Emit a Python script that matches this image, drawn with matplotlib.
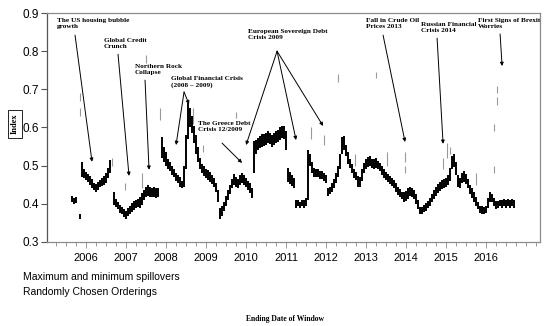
import numpy as np
import matplotlib
matplotlib.use('Agg')
import matplotlib.pyplot as plt

# sampling of the rolling window end dates (decimal years, ~18 days apart)
start_year = 2005.65
step = 0.05

nan = np.nan
# min / max spillover index per window (nan = gap in the series)
spill_lo = [0.405, 0.400, 0.402, nan, 0.360, 0.470, 0.468, 0.463, 0.458, 0.450,
            0.442, 0.435, 0.430, 0.435, 0.443, 0.447, 0.450, 0.455, 0.468, 0.480,
            nan, 0.398, 0.392, 0.385, 0.377, 0.372, 0.365, 0.360, 0.367, 0.372,
            0.378, 0.383, 0.388, 0.392, 0.390, 0.398, 0.410, 0.418, 0.420, 0.417,
            0.418, 0.418, 0.416, 0.418, nan, 0.520, 0.510, 0.500, 0.490, 0.485,
            0.475, 0.470, 0.460, 0.455, 0.445, 0.440, 0.445, 0.490, 0.570, 0.600,
            0.585, 0.560, 0.530, 0.510, 0.490, 0.480, 0.472, 0.468, 0.462, 0.458,
            0.452, 0.445, 0.430, 0.405, 0.360, 0.368, 0.380, 0.395, 0.410, 0.425,
            0.440, 0.450, 0.445, 0.440, 0.450, 0.455, 0.450, 0.445, 0.435, 0.428,
            0.415, 0.480, 0.530, 0.540, 0.545, 0.550, 0.552, 0.553, 0.558, 0.556,
            0.550, 0.553, 0.558, 0.563, 0.568, 0.572, 0.570, 0.540, 0.458, 0.452,
            0.447, 0.440, 0.390, 0.395, 0.390, 0.395, 0.390, 0.395, 0.410, 0.500,
            0.480, 0.470, 0.470, 0.470, 0.465, 0.465, 0.460, 0.455, 0.420, 0.425,
            0.430, 0.440, 0.455, 0.470, 0.490, 0.530, 0.540, 0.525, 0.505, 0.493,
            0.480, 0.468, 0.462, 0.445, 0.443, 0.460, 0.480, 0.492, 0.497, 0.500,
            0.493, 0.492, 0.495, 0.490, 0.485, 0.475, 0.468, 0.462, 0.458, 0.452,
            0.447, 0.440, 0.430, 0.422, 0.418, 0.412, 0.405, 0.408, 0.413, 0.420,
            0.418, 0.412, 0.400, 0.385, 0.372, 0.372, 0.378, 0.382, 0.388, 0.395,
            0.405, 0.412, 0.420, 0.428, 0.433, 0.438, 0.440, 0.443, 0.448, 0.460,
            0.490, 0.497, 0.475, 0.445, 0.442, 0.455, 0.458, 0.452, 0.440, 0.425,
            0.415, 0.405, 0.395, 0.385, 0.375, 0.372, 0.372, 0.375, 0.390, 0.405,
            0.405, 0.395, 0.385, 0.388, 0.393, 0.390, 0.393, 0.390, 0.393, 0.390,
            0.393, 0.390]
spill_hi = [0.420, 0.415, 0.418, nan, 0.372, 0.510, 0.492, 0.483, 0.478, 0.472,
            0.465, 0.455, 0.452, 0.458, 0.463, 0.468, 0.472, 0.480, 0.495, 0.515,
            nan, 0.430, 0.413, 0.405, 0.398, 0.392, 0.385, 0.380, 0.388, 0.395,
            0.402, 0.408, 0.410, 0.412, 0.418, 0.428, 0.437, 0.443, 0.448, 0.445,
            0.442, 0.443, 0.440, 0.440, nan, 0.575, 0.550, 0.535, 0.518, 0.510,
            0.500, 0.490, 0.480, 0.475, 0.470, 0.460, 0.500, 0.580, 0.665, 0.650,
            0.630, 0.605, 0.580, 0.550, 0.520, 0.505, 0.498, 0.492, 0.488, 0.482,
            0.475, 0.468, 0.455, 0.435, 0.390, 0.395, 0.405, 0.420, 0.437, 0.450,
            0.465, 0.477, 0.470, 0.465, 0.475, 0.480, 0.475, 0.467, 0.460, 0.455,
            0.440, 0.565, 0.568, 0.572, 0.578, 0.583, 0.582, 0.585, 0.590, 0.586,
            0.580, 0.585, 0.590, 0.594, 0.600, 0.605, 0.605, 0.590, 0.495, 0.482,
            0.475, 0.468, 0.410, 0.410, 0.405, 0.410, 0.410, 0.415, 0.540, 0.530,
            0.510, 0.495, 0.490, 0.490, 0.485, 0.485, 0.480, 0.475, 0.440, 0.445,
            0.455, 0.465, 0.480, 0.500, 0.530, 0.575, 0.578, 0.555, 0.535, 0.518,
            0.505, 0.492, 0.483, 0.472, 0.470, 0.490, 0.508, 0.517, 0.522, 0.525,
            0.518, 0.517, 0.520, 0.513, 0.508, 0.500, 0.492, 0.484, 0.478, 0.472,
            0.467, 0.462, 0.455, 0.445, 0.438, 0.432, 0.430, 0.433, 0.440, 0.445,
            0.442, 0.435, 0.425, 0.410, 0.392, 0.392, 0.398, 0.402, 0.408, 0.415,
            0.425, 0.435, 0.445, 0.452, 0.458, 0.463, 0.465, 0.468, 0.475, 0.495,
            0.525, 0.530, 0.510, 0.475, 0.468, 0.480, 0.485, 0.478, 0.465, 0.450,
            0.440, 0.430, 0.418, 0.405, 0.395, 0.395, 0.392, 0.395, 0.415, 0.430,
            0.425, 0.415, 0.407, 0.408, 0.410, 0.410, 0.413, 0.410, 0.413, 0.410,
            0.413, 0.410]

# isolated grey readings from other orderings: (date, low, high)
outlier_t = [2005.85, 2005.85, 2006.65, 2006.98, 2007.40, 2007.50, 2007.85, 2008.67,
             2008.92, 2009.75, 2011.62, 2011.95, 2012.30, 2012.72, 2013.25, 2013.52,
             2013.97, 2013.97, 2014.92, 2015.02, 2015.10, 2015.75, 2016.20, 2016.20,
             2016.27, 2016.27]
outlier_lo = [0.670, 0.630, 0.500, 0.435, 0.440, 0.770, 0.620, 0.610, 0.535, 0.625,
              0.570, 0.555, 0.720, 0.500, 0.730, 0.500, 0.510, 0.480, 0.490, 0.520,
              0.530, 0.450, 0.590, 0.480, 0.690, 0.660]
outlier_hi = [0.690, 0.650, 0.520, 0.455, 0.480, 0.790, 0.650, 0.650, 0.555, 0.640,
              0.600, 0.580, 0.740, 0.530, 0.745, 0.535, 0.535, 0.500, 0.520, 0.560,
              0.550, 0.480, 0.610, 0.500, 0.710, 0.680]

years = list(range(2006, 2017))

# event labels: text, text anchor, arrow start, arrow tips
events = [
    ("The US housing bubble\ngrowth", (2005.275, 0.887), (2005.725, 0.842), [(2006.15, 0.510)]),
    ("Global Credit\nCrunch", (2006.45, 0.835), (2006.80, 0.792), [(2007.075, 0.473)]),
    ("Northern Rock\nCollapse", (2007.225, 0.766), (2007.475, 0.724), [(2007.575, 0.489)]),
    ("Global Financial Crisis\n(2008 \u2013 2009)", (2008.125, 0.735), (2008.45, 0.693),
     [(2008.25, 0.554), (2008.575, 0.661)]),
    ("The Greece Debt\nCrisis 12/2009", (2008.80, 0.617), (2009.40, 0.559), [(2009.90, 0.507)]),
    ("European Sovereign Debt\nCrisis 2009", (2010.05, 0.858), (2010.775, 0.800),
     [(2010.0, 0.554), (2011.25, 0.567), (2011.925, 0.604)]),
    ("Fall in Crude Oil\nPrices 2013", (2013.0, 0.887), (2013.425, 0.842), [(2013.975, 0.562)]),
    ("Russian Financial\nCrisis 2014", (2014.375, 0.876), (2014.775, 0.834), [(2014.925, 0.557)]),
    ("First Signs of Brexit\nWorries", (2015.8, 0.887), (2016.35, 0.845), [(2016.40, 0.761)]),
]

t = start_year + step * np.arange(len(spill_lo))
lo = np.array(spill_lo)
hi = np.array(spill_hi)

fig = plt.figure(figsize=(5.5, 3.26), dpi=100)
ax = fig.add_axes([0.0855, 0.258, 0.8965, 0.702])

# grey outliers behind, black min/max band on top
ax.vlines(outlier_t, outlier_lo, outlier_hi, color='#9a9a9a', lw=0.8, zorder=2)
ok = np.isfinite(lo)
ax.vlines(t[ok], lo[ok], hi[ok], color='black', lw=1.4, zorder=3)

ax.set_xlim(2005.025, 2017.35)
ax.set_ylim(0.3, 0.9)
ax.set_yticks(np.arange(0.3, 0.91, 0.1))
ax.set_yticklabels([f"{v:.1f}" for v in np.arange(0.3, 0.91, 0.1)],
                   fontsize=8.5, family='Liberation Sans')
ax.set_xticks(years)
ax.set_xticklabels([str(y) for y in years], fontsize=8, family='Liberation Sans')
ax.set_xticks(np.arange(2005.25, 2017.3, 0.25), minor=True)
ax.tick_params(axis='y', direction='out', length=4, width=0.8, color='#555555', pad=2)
ax.tick_params(axis='x', which='both', direction='out', length=3, width=0.6,
               color='#888888', pad=4)
ax.tick_params(axis='x', which='major', length=4)
for s in ax.spines.values():
    s.set_color('#8c8c8c')
    s.set_linewidth(0.9)
ax.spines['left'].set_color('#555555')

ann_font = dict(family='Liberation Serif', fontweight='bold', fontsize=5.2)
arrow = dict(arrowstyle='-|>', color='black', lw=0.7, mutation_scale=5,
             shrinkA=0, shrinkB=0)
for label, pos, base, tips in events:
    ax.text(pos[0], pos[1], label, ha='left', va='top', linespacing=1.25,
            zorder=5, **ann_font)
    for tip in tips:
        ax.annotate('', xy=tip, xytext=base, arrowprops=arrow, zorder=4)

fig.text(0.027, 0.620, 'Index', rotation=90, ha='center', va='center',
         family='Liberation Serif', fontweight='bold', fontsize=6,
         bbox=dict(boxstyle='square,pad=0.4', fc='white', ec='black', lw=0.6))
fig.text(0.042, 0.150, 'Maximum and minimum spillovers', ha='left', va='center',
         family='Liberation Sans', fontsize=7.5)
fig.text(0.042, 0.104, 'Randomly Chosen Orderings', ha='left', va='center',
         family='Liberation Sans', fontsize=7.5)
fig.text(0.518, 0.021, 'Ending Date of Window', ha='center', va='center',
         family='Liberation Serif', fontweight='bold', fontsize=5.5)

fig.savefig('out.png', dpi=100)
